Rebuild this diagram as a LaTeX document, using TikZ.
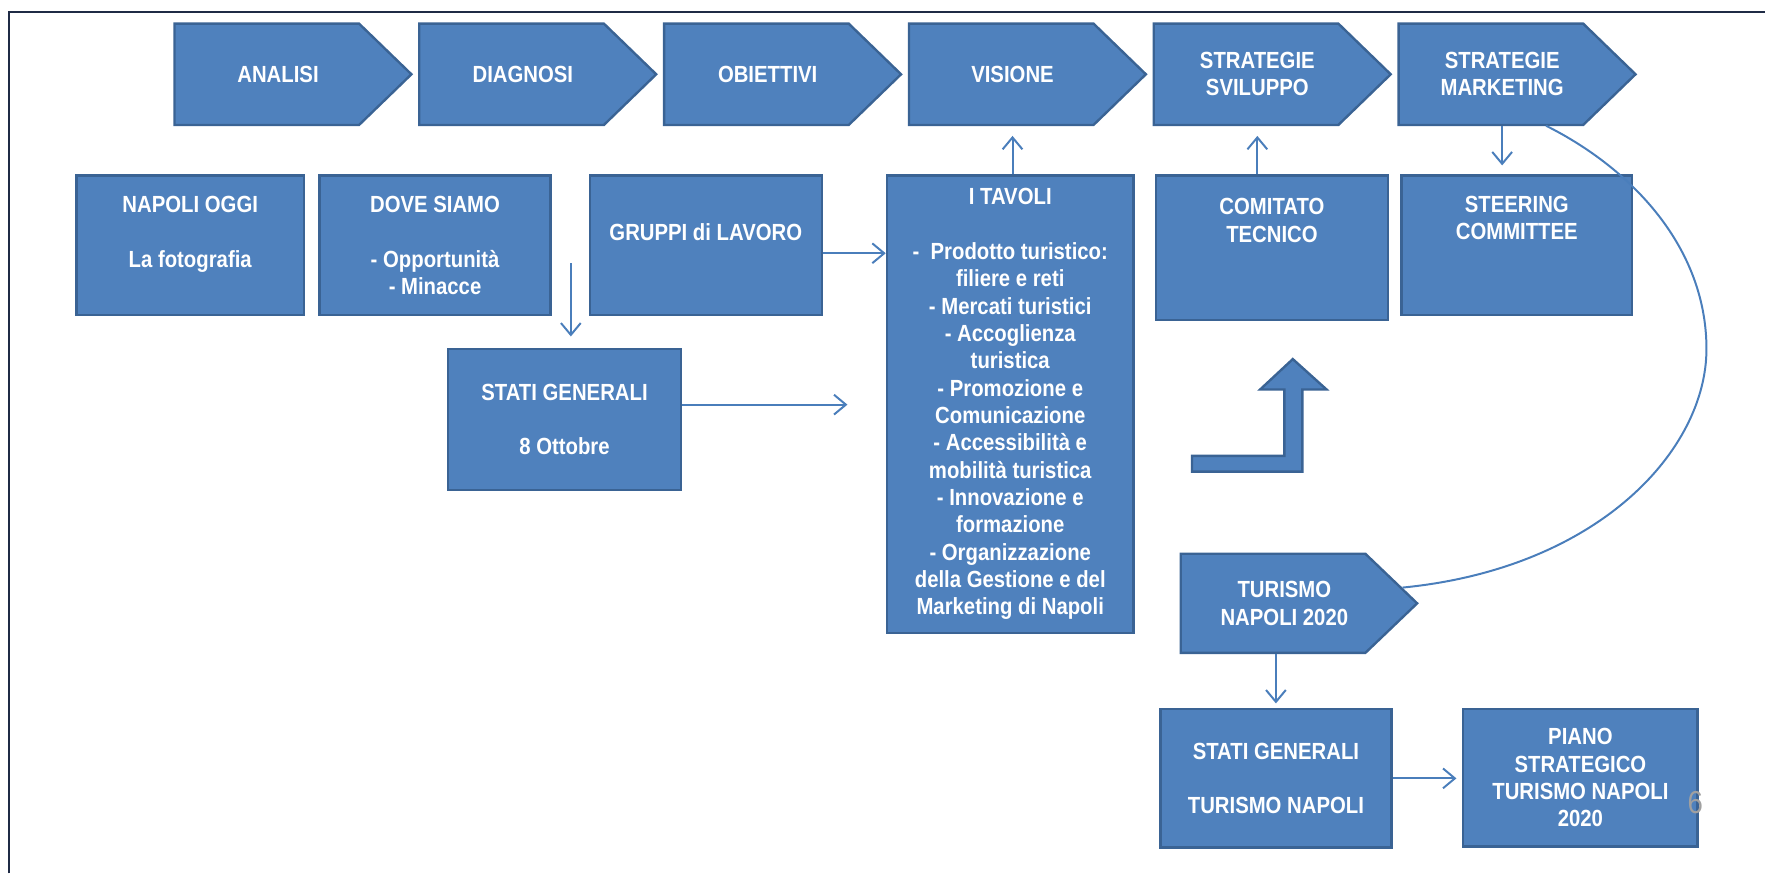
\documentclass[tikz,border=0pt]{standalone}
\usepackage{fontspec}
\usetikzlibrary{arrows.meta}
\newfontfamily\boxfont{Liberation Sans}[FakeStretch=0.87]
\newcommand\boxsize{\fontsize{5.9}{6.9}\selectfont}
\definecolor{boxblue}{HTML}{4F81BD}
\definecolor{edgeblue}{HTML}{3A6394}
\definecolor{lineblue}{HTML}{4A7EBB}
\definecolor{framenavy}{HTML}{1F2B45}
\definecolor{pagegray}{HTML}{A0A0A0}
\tikzset{
    box/.style={draw=edgeblue, fill=boxblue, line width=0.6pt, text=white,
        font=\boxfont\bfseries\boxsize, align=center, inner sep=0pt},
    chev/.style={draw=edgeblue, fill=boxblue, line width=0.6pt},
    chevtext/.style={text=white, font=\boxfont\bfseries\boxsize, align=center,
        inner sep=0pt, minimum width=1.6cm, minimum height=0.9cm},
    conn/.style={draw=lineblue, line width=0.5pt, -{Straight Barb[length=3pt, width=5pt]}},
    loopline/.style={draw=lineblue, line width=0.5pt}
}
\begin{document}
\begin{tikzpicture}[x=0.01cm, y=-0.01cm]
            \useasboundingbox (0,0) rectangle (1568,776);
            \draw[framenavy, line width=0.6pt] (8,776) -- (8,10.7) -- (1568,10.7);
            \foreach \nm/\x/\txt in {ana/155/ANALISI, dia/372.5/DIAGNOSI, obi/590/OBIETTIVI,
                vis/807.5/VISIONE, svi/1025/{STRATEGIE\\SVILUPPO}, mkt/1242.5/{STRATEGIE\\MARKETING}} {
                \filldraw[chev] (\x,21) -- ++(164,0) -- ++(46.5,45) -- ++(-46.5,45) -- ++(-164,0) -- cycle;
                \node[chevtext] (\nm) at (\x+92,66) {\txt};
            }
            \node[box, minimum width=2.02cm, minimum height=1.24cm] (nap) at (169,218)
                {NAPOLI OGGI\\[6.9pt]La fotografia\\~};
            \node[box, minimum width=2.05cm, minimum height=1.24cm] (dov) at (386.5,218)
                {DOVE SIAMO\\[6.9pt]- Opportunità\\- Minacce};
            \node[box, minimum width=2.06cm, minimum height=1.24cm] (gru) at (627,218)
                {GRUPPI di LAVORO\\~};
            \node[box, minimum width=2.19cm, minimum height=4.06cm] (tav) at (897.5,359)
                {I TAVOLI\\[6.9pt]-~ Prodotto turistico:\\filiere e reti\\- Mercati turistici\\- Accoglienza\\turistica\\- Promozione e\\Comunicazione\\- Accessibilità e\\mobilità turistica\\- Innovazione e\\formazione\\- Organizzazione\\della Gestione e del\\Marketing di Napoli};
            \node[box, minimum width=2.06cm, minimum height=1.28cm] (com) at (1130,220)
                {COMITATO\\TECNICO\\~\\~};
            \node[box, minimum width=2.05cm, minimum height=1.24cm] (ste) at (1347.5,218)
                {STEERING\\COMMITTEE\\~\\~};
            \node[box, minimum width=2.07cm, minimum height=1.25cm] (sg) at (501.5,372.5)
                {STATI GENERALI\\[6.9pt]8 Ottobre};
            \filldraw[chev] (1049,492) -- (1213,492) -- (1259,536) -- (1213,580) -- (1049,580) -- cycle;
            \node[chevtext, minimum height=0.88cm] (tur) at (1141,536) {TURISMO\\NAPOLI 2020};
            \node[box, minimum width=2.05cm, minimum height=1.23cm] (sgt) at (1133.5,691.5)
                {STATI GENERALI\\[6.9pt]TURISMO NAPOLI};
            \node[box, minimum width=2.08cm, minimum height=1.22cm] (pia) at (1404,691)
                {PIANO\\STRATEGICO\\TURISMO NAPOLI\\2020};
            \node[text=pagegray, font=\boxfont\fontsize{8}{9}\selectfont] (pg) at (1506,713) {6};
            \filldraw[chev] (1059,405) -- (1141,405) -- (1141,346) -- (1119.5,346) -- (1148.5,319)
                -- (1178.5,346) -- (1157,346) -- (1157,419) -- (1059,419) -- cycle;
            \coordinate (gruout) at ([yshift=-0.07cm]gru.east);
            \coordinate (dovout) at ([shift={(0.17cm,-0.16cm)}]dov.east);
            \coordinate (sgout) at ([yshift=0.13cm]sg.east);
            \coordinate (turend) at (1246,522);
            \draw[conn] (gruout) -- (gruout -| tav.west);
            \draw[conn, shorten >=0.1cm] (dovout) -- (dovout |- sg.north);
            \draw[conn, shorten >=0.34cm] (sgout) -- (sgout -| tav.west);
            \draw[conn, shorten >=0.09cm] (vis.south |- tav.north) -- (vis.south);
            \draw[conn, shorten >=0.09cm] (svi.south |- com.north) -- (svi.south);
            \draw[conn, shorten >=0.08cm] (mkt.south) -- (mkt.south |- ste.north);
            \draw[conn, shorten >=0.04cm] (sgt.north |- tur.south) -- (sgt.north);
            \draw[conn, shorten >=0.05cm] (sgt.east) -- (sgt.east -| pia.west);
            \draw[loopline] ([xshift=0.39cm]mkt.south) .. controls (1450,150) and (1516,220) .. (1516,310)
                .. controls (1516,400) and (1420,505) .. (turend);
        \end{tikzpicture}
\end{document}
